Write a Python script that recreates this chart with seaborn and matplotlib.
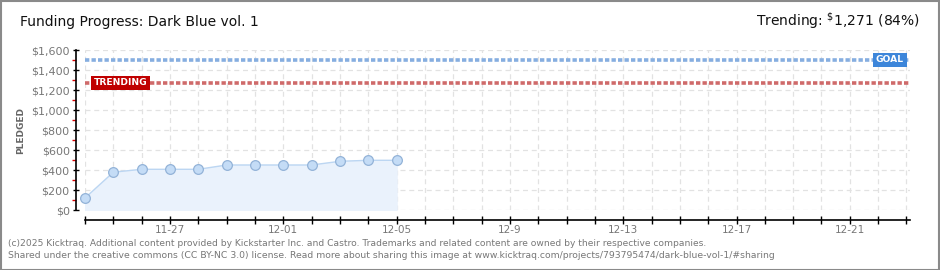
import numpy as np
import pandas as pd
import matplotlib
matplotlib.use("Agg")
import matplotlib.pyplot as plt
import matplotlib.dates as mdates
from matplotlib.patches import Rectangle
import seaborn as sns

# ---- data ----
dates = ["2024-11-24", "2024-11-25", "2024-11-26", "2024-11-27", "2024-11-28", "2024-11-29",
         "2024-11-30", "2024-12-01", "2024-12-02", "2024-12-03", "2024-12-04", "2024-12-05"]
pledged = [120, 378, 407, 407, 407, 450, 450, 450, 450, 487, 497, 497]
goal = 1500
trending = 1271
trend_pct = 84
x_start = "2024-11-24"
x_end = "2024-12-23"
label_dates = ["2024-11-27", "2024-12-01", "2024-12-05", "2024-12-09", "2024-12-13", "2024-12-17", "2024-12-21"]
label_texts = ["11-27", "12-01", "12-05", "12-9", "12-13", "12-17", "12-21"]
y_major = [0, 200, 400, 600, 800, 1000, 1200, 1400, 1600]
y_labels = ["$0", "$200", "$400", "$600", "$800", "$1,000", "$1,200", "$1,400", "$1,600"]

df = pd.DataFrame({"date": pd.to_datetime(dates), "pledged": pledged})

sns.set_style("white")
plt.rcParams["font.family"] = ["DejaVu Sans"]

W, H = 940, 270
fig = plt.figure(figsize=(W / 100, H / 100), dpi=100)
fig.patch.set_facecolor("white")
# outer border
fig.add_artist(Rectangle((0.5 / W, 0.5 / H), 1 - 1.5 / W, 1 - 1.5 / H, transform=fig.transFigure,
                         fill=False, edgecolor="#8a8a8a", linewidth=1.5))

left, right, top, bottom = 85, 910, 50, 210
ax = fig.add_axes([left / W, (H - bottom) / H, (right - left) / W, (bottom - top) / H])

x0 = pd.Timestamp(x_start)
x1 = pd.Timestamp(x_end) + pd.Timedelta(hours=3)
ax.set_xlim(x0, x1)
ax.set_ylim(0, 1600)

# grid
ax.set_yticks(y_major)
ax.set_yticks([100, 300, 500, 700, 900, 1100, 1300, 1500], minor=True)
all_days = pd.date_range(x_start, x_end, freq="D")
ax.set_xticks(all_days)
lbl_map = dict(zip(pd.to_datetime(label_dates), label_texts))
ax.set_xticklabels([lbl_map.get(d, "") for d in all_days])
ax.grid(True, which="major", color="#e2e2e2", linestyle=(0, (4, 3)), linewidth=0.9)

# fill + line
ax.fill_between(df["date"], df["pledged"], 0, color="#eaf2fc", zorder=1)
sns.lineplot(data=df, x="date", y="pledged", ax=ax, color="#bcd6f2", linewidth=1.0,
             marker="o", markersize=7, markerfacecolor="#c4dcf6", markeredgecolor="#93b3d8",
             markeredgewidth=0.9, zorder=3, clip_on=False)

# goal / trending lines
ax.axhline(goal, color="#86aee0", linestyle=(0, (1.2, 0.6)), linewidth=2.6, zorder=2)
ax.axhline(trending, color="#cf6a6a", linestyle=(0, (1.2, 0.6)), linewidth=2.6, zorder=2)

# labels on lines
ax.text(0.011, trending, "TRENDING", transform=ax.get_yaxis_transform(), ha="left", va="center",
        color="white", fontsize=6.6, fontweight="bold", zorder=5,
        bbox=dict(boxstyle="square,pad=0.3", facecolor="#c00000", edgecolor="none"))
ax.text(0.9585, goal, "GOAL", transform=ax.get_yaxis_transform(), ha="left", va="center",
        color="white", fontsize=6.6, fontweight="bold", zorder=5,
        bbox=dict(boxstyle="square,pad=0.3", facecolor="#3d86da", edgecolor="none"))

# spines / ticks
for s in ["top", "right"]:
    ax.spines[s].set_visible(False)
ax.spines["left"].set_position(("outward", 6.5))
ax.spines["bottom"].set_position(("outward", 7.2))
ax.spines["left"].set_bounds(0, 1600)
ax.spines["left"].set_color("black")
ax.spines["bottom"].set_color("black")
ax.spines["left"].set_linewidth(1.2)
ax.spines["bottom"].set_linewidth(1.2)
ax.set_yticklabels(y_labels)
ax.tick_params(axis="y", which="major", left=True, direction="inout", length=5, width=1, color="black",
               labelsize=8, labelcolor="#777777", pad=2)
ax.tick_params(axis="y", which="minor", left=True, direction="out", length=3, width=1, color="#dd0000")
ax.tick_params(axis="x", which="major", bottom=True, direction="inout", length=6, width=1, color="black",
               labelsize=7.5, labelcolor="#777777", pad=0.5)
ax.set_xlabel("")
ax.set_ylabel("PLEDGED", fontsize=6.5, color="#666666", labelpad=4, fontweight="bold")

# titles
fig.text(20 / W, 1 - 22 / H, "Funding Progress: Dark Blue vol. 1", ha="left", va="center",
         fontsize=10, color="#111111")
fig.text(920 / W, 1 - 21 / H, r"Trending: $^{\$}$" + f"{trending:,} ({trend_pct}%)",
         ha="right", va="center", fontsize=10, color="#111111")

# footer
fig.text(8 / W, 1 - 243 / H,
         "(c)2025 Kicktraq. Additional content provided by Kickstarter Inc. and Castro. Trademarks and related content are owned by their respective companies.",
         ha="left", va="center", fontsize=6.6, color="#777777")
fig.text(8 / W, 1 - 256 / H,
         "Shared under the creative commons (CC BY-NC 3.0) license. Read more about sharing this image at www.kicktraq.com/projects/793795474/dark-blue-vol-1/#sharing",
         ha="left", va="center", fontsize=6.7, color="#777777")

fig.savefig("out.png", dpi=100)
